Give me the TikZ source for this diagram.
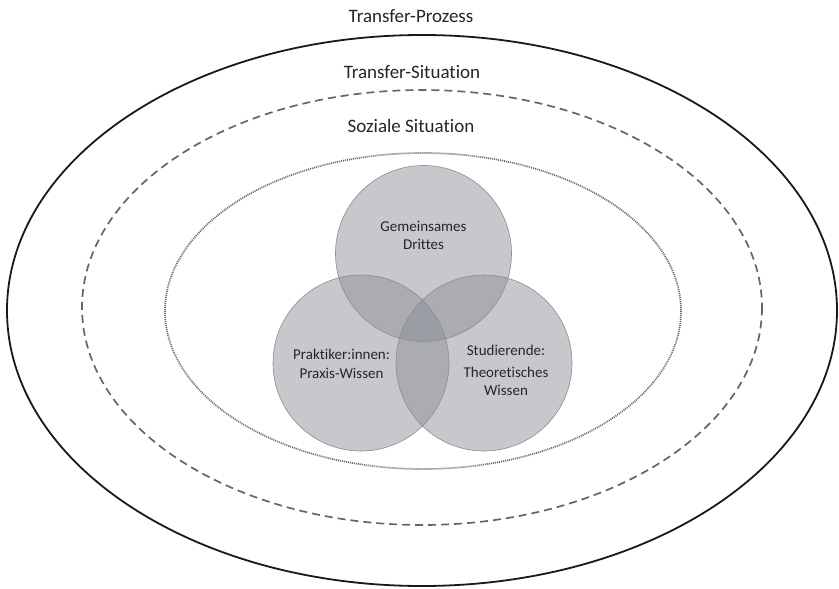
\documentclass[tikz,border=0pt]{standalone}
\usepackage{fontspec}
\setmainfont[Ligatures={NoCommon}]{Carlito}
\begin{document}
\begin{tikzpicture}[x=1pt,y=-1pt,
  outerline/.style={draw=black!90,line width=1.8pt},
  dashline/.style={draw=black!60,line width=1.7pt,dash pattern=on 8pt off 5pt},
  dotline/.style={draw=black!60,line width=1.7pt,dash pattern=on 1pt off 1pt},
  circ/.style={circle,minimum size=176pt,inner sep=0pt,fill={rgb,255:red,140;green,142;blue,150},fill opacity=0.48,draw=black!45,line width=0.6pt,text opacity=1},
  title/.style={font=\fontsize{19}{22}\selectfont,text=black!85},
  ctext/.style={font=\fontsize{15}{17.5}\selectfont,text=black!85,align=center}]
\useasboundingbox (0,0) rectangle (839,589);
\fill[white] (0,0) rectangle (839,589);
\draw[outerline] (422,310.5) ellipse [x radius=415, y radius=275.5];
\draw[dashline] (422,307.5) ellipse [x radius=340, y radius=217.5];
\draw[dotline] (423,311) ellipse [x radius=258, y radius=158];
\node[title] (tp) at (411,16) {Transfer-Prozess};
\node[title] (ts) at (412,72) {Transfer-Situation};
\node[title] (ss) at (411,126) {Soziale Situation};
\node[circ] (top) at (423.5,253.5) {};
\node[circ] (left) at (361,363) {};
\node[circ] (right) at (484,363) {};
\node[ctext] (tt) at (423.5,235.5) {Gemeinsames\\Drittes};
\node[ctext] (lt) at (341.5,364) {Praktiker:innen:\\[1pt]Praxis-Wissen};
\node[ctext] (rt) at (506,370) {Studierende:\\[5pt]Theoretisches\\Wissen};
\end{tikzpicture}
\end{document}
